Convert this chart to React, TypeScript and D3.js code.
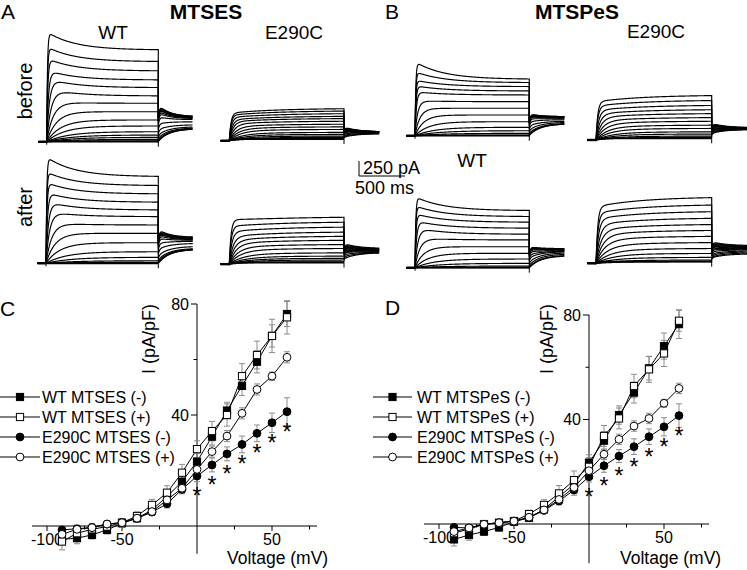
import React from "react";
import * as d3 from "d3";

const FONT = "'Liberation Sans', Arial, Helvetica, sans-serif";

// ---------------- Panels C & D : current–voltage data ----------------
const voltages = [-90, -80, -70, -60, -50, -40, -30, -20, -10, 0, 10, 20, 30, 40, 50, 60];

// C: MTSES
const cWtMinus = [-4.8, -4.4, -3.2, -1.4, 1.0, 2.8, 5.8, 10.6, 16.0, 23.2, 32.2, 41.6, 50.5, 59.2, 68.5, 76.4];
const cWtPlus = [-5.6, -2.6, -1.2, -0.2, 1.2, 3.6, 7.6, 12.0, 19.2, 27.7, 34.2, 40.0, 54.0, 61.6, 68.5, 75.2];
const cMutMinus = [-1.4, -1.0, -0.5, 0.7, 1.2, 2.8, 5.0, 8.0, 13.2, 18.0, 22.0, 26.0, 29.4, 33.4, 37.2, 41.2];
const cMutPlus = [-3.0, -1.2, -0.6, 0.7, 1.2, 2.8, 5.2, 9.4, 13.6, 20.4, 26.8, 32.4, 40.6, 49.2, 54.0, 60.8];
const cWtMinusErr = [2, 2, 1.5, 1.5, 1.5, 1.5, 1.5, 2, 2.5, 3, 3, 3, 3.5, 4, 4, 4.5];
const cWtPlusErr = [3, 2.5, 2, 1.5, 1.5, 1.5, 2, 2.5, 3, 3, 3.5, 4, 4.5, 5, 6, 6];
const cMutMinusErr = [1, 1, 1, 1, 1, 1, 1, 1.5, 1.5, 2, 2.5, 2.5, 3, 3, 3.5, 5];
const cMutPlusErr = [1.5, 1.5, 1, 1, 1, 1, 1, 1.5, 2, 2, 2, 2, 2, 2, 1.5, 2];
const cLegend = ["WT MTSES (-)", "WT MTSES (+)", "E290C MTSES (-)", "E290C MTSES (+)"];

// D: MTSPeS
const dWtMinus = [-5.9, -4.2, -2.9, -1.3, 0.9, 2.4, 5.6, 10.5, 15.2, 23.5, 31.9, 41.7, 50.3, 59.6, 68.1, 76.5];
const dWtPlus = [-3.5, -1.9, -0.1, 0.5, 1.1, 3.8, 7.3, 11.7, 16.8, 21.9, 33.7, 40.4, 52.8, 59.2, 65.3, 77.8];
const dMutMinus = [-1.3, -1.5, -0.1, 0.5, 1.1, 2.4, 5.2, 8.8, 13.0, 18.1, 22.3, 26.0, 29.6, 33.4, 37.2, 41.5];
const dMutPlus = [-2.9, -1.5, -0.1, 0.5, 1.1, 2.6, 5.4, 9.4, 14.0, 20.4, 26.7, 32.4, 37.5, 40.4, 46.2, 51.9];
const dWtMinusErr = [2.5, 2, 1.5, 1.5, 1.5, 1.5, 1.5, 2, 3, 3, 3.5, 3.5, 4, 4.5, 5, 5.5];
const dWtPlusErr = [2, 1.5, 1.5, 1, 1.5, 1.5, 2, 3, 3.5, 3.5, 4, 4, 4.5, 5, 5, 4];
const dMutMinusErr = [1, 1, 1, 1, 1, 1, 1, 1.5, 2, 2, 2.5, 2.5, 3, 3, 3.5, 4.5];
const dMutPlusErr = [1.5, 1.5, 1, 1, 1, 1, 1, 1.5, 2, 2, 2, 2, 2, 2, 1.5, 2];
const dLegend = ["WT MTSPeS (-)", "WT MTSPeS (+)", "E290C MTSPeS (-)", "E290C MTSPeS (+)"];

const significantVoltages = [0, 10, 20, 30, 40, 50, 60];

const xTicksMajor = [-100, -50, 50];
const xTickLabels = ["-100", "-50", "50"];
const xTicksMinor = [-75, -25, 25, 75];
const yTicksMajor = [40, 80];
const yTickLabels = ["40", "80"];
const yTicksMinor = [20, 60];

// ---------------- Panels A & B : current traces (pA) ----------------
// steady-state amplitude at end of step, peak amplitude, tail start, tail end
const aWtBeforeSS = [1528, 1333, 1178, 1028, 900, 762, 640, 500, 362, 262, 167, 112, 73, 40, 17];
const aWtBeforePk = [1833, 1583, 1390, 1195, 1057, 890, 667, 500, 362, 262, 167, 112, 73, 40, 17];
const aWtBeforeTf = [617, 600, 583, 567, 550, 517, 483, 417, 300, 200, 117, 67, 33, 17, 8];
const aWtBeforeTt = [417, 417, 408, 400, 400, 392, 383, 367, 333, 283, 250, 233, 225, 217, 217];

const aWtAfterSS = [1443, 1293, 1155, 1017, 888, 777, 638, 500, 343, 193, 100, 43, 17, 0];
const aWtAfterPk = [1777, 1527, 1350, 1183, 1033, 867, 680, 500, 343, 193, 100, 43, 17, 0];
const aWtAfterTf = [567, 550, 533, 517, 500, 467, 417, 333, 233, 133, 67, 33, 17, 0];
const aWtAfterTt = [433, 425, 417, 408, 400, 392, 383, 367, 333, 283, 250, 242, 233, 233];

const aMutBeforeSS = [512, 472, 428, 383, 345, 300, 250, 205, 162, 112, 78, 50, 28, 12];
const aMutBeforePk = [512, 472, 428, 383, 345, 300, 250, 205, 162, 112, 78, 50, 28, 12];
const aMutBeforeTf = [200, 192, 183, 175, 167, 158, 150, 142, 133, 117, 92, 67, 50, 33];
const aMutBeforeTt = [117, 117, 117, 117, 117, 117, 117, 113, 108, 103, 100, 97, 92, 92];

const aMutAfterSS = [763, 680, 597, 513, 442, 375, 303, 237, 163, 108, 70, 42, 13];
const aMutAfterPk = [847, 717, 610, 513, 442, 375, 303, 237, 163, 108, 70, 42, 13];
const aMutAfterTf = [317, 300, 283, 267, 250, 233, 217, 200, 183, 167, 133, 100, 67];
const aMutAfterTt = [233, 225, 217, 217, 208, 208, 200, 200, 192, 183, 175, 167, 167];

const bWtBeforeSS = [940, 883, 817, 745, 678, 567, 457, 345, 233, 140, 83, 40, 12];
const bWtBeforePk = [1233, 1067, 928, 833, 733, 583, 457, 345, 233, 140, 83, 40, 12];
const bWtBeforeTf = [367, 358, 350, 342, 333, 317, 283, 233, 167, 100, 50, 25, 8];
const bWtBeforeTt = [317, 317, 308, 308, 300, 292, 283, 267, 242, 225, 208, 200, 200];

const bWtAfterSS = [950, 850, 757, 657, 557, 462, 350, 240, 145, 73, 28, 0];
const bWtAfterPk = [1183, 1033, 900, 783, 667, 500, 350, 240, 145, 73, 28, 0];
const bWtAfterTf = [350, 342, 333, 317, 300, 267, 217, 167, 100, 50, 17, 0];
const bWtAfterTt = [317, 308, 300, 300, 292, 283, 275, 267, 250, 230, 210, 200];

const bMutBeforeSS = [722, 638, 555, 483, 417, 350, 288, 222, 167, 110, 72, 38, 17];
const bMutBeforePk = [722, 638, 555, 483, 417, 350, 288, 222, 167, 110, 72, 38, 17];
const bMutBeforeTf = [250, 233, 225, 217, 208, 200, 183, 167, 150, 133, 117, 100, 83];
const bMutBeforeTt = [175, 175, 172, 170, 167, 167, 163, 160, 157, 153, 150, 150, 150];

const bMutAfterSS = [1083, 957, 845, 733, 628, 528, 428, 323, 223, 140, 73, 28, 0];
const bMutAfterPk = [1083, 957, 845, 733, 628, 528, 428, 323, 223, 140, 73, 28, 0];
const bMutAfterTf = [333, 317, 300, 283, 267, 250, 225, 200, 167, 133, 108, 83, 67];
const bMutAfterTt = [267, 258, 250, 242, 233, 225, 217, 208, 200, 183, 167, 150, 133];

const holdCurrentWT = 0;
const holdCurrentMut = -28;

// protocol timing (ms)
const HOLD_MS = 90;
const STEP_MS = 1200;
const TAIL_MS = 370;
const DT = 4;

type TracePanelCfg = {
  xs: number; xe: number; y0: number;
  ss: number[]; pk: number[]; tf: number[]; tt: number[];
  hold: number; kind: "wt" | "mut";
};

const tracePanels: TracePanelCfg[] = [
  { xs: 46.7, xe: 158.3, y0: 141.7, ss: aWtBeforeSS, pk: aWtBeforePk, tf: aWtBeforeTf, tt: aWtBeforeTt, hold: holdCurrentWT, kind: "wt" },
  { xs: 46.0, xe: 158.3, y0: 263.3, ss: aWtAfterSS, pk: aWtAfterPk, tf: aWtAfterTf, tt: aWtAfterTt, hold: holdCurrentWT, kind: "wt" },
  { xs: 229.3, xe: 344.0, y0: 139.0, ss: aMutBeforeSS, pk: aMutBeforePk, tf: aMutBeforeTf, tt: aMutBeforeTt, hold: holdCurrentMut, kind: "mut" },
  { xs: 229.3, xe: 344.0, y0: 262.5, ss: aMutAfterSS, pk: aMutAfterPk, tf: aMutAfterTf, tt: aMutAfterTt, hold: holdCurrentMut, kind: "mut" },
  { xs: 415.0, xe: 529.3, y0: 135.7, ss: bWtBeforeSS, pk: bWtBeforePk, tf: bWtBeforeTf, tt: bWtBeforeTt, hold: holdCurrentWT, kind: "wt" },
  { xs: 415.0, xe: 529.3, y0: 267.7, ss: bWtAfterSS, pk: bWtAfterPk, tf: bWtAfterTf, tt: bWtAfterTt, hold: holdCurrentWT, kind: "wt" },
  { xs: 596.0, xe: 711.7, y0: 138.3, ss: bMutBeforeSS, pk: bMutBeforePk, tf: bMutBeforeTf, tt: bMutBeforeTt, hold: holdCurrentMut, kind: "mut" },
  { xs: 596.0, xe: 711.7, y0: 261.7, ss: bMutAfterSS, pk: bMutAfterPk, tf: bMutAfterTf, tt: bMutAfterTt, hold: holdCurrentMut, kind: "mut" },
];

const ampScale = d3.scaleLinear().domain([0, 250]).range([0, 15]);

function tracePoints(cfg: TracePanelCfg, i: number): [number, number][] {
  const ss = cfg.ss[i], pk = cfg.pk[i], tf = cfg.tf[i], tt = cfg.tt[i];
  const frac = ss / cfg.ss[0];
  const wt = cfg.kind === "wt";
  const tauF = wt ? 8 + 320 * Math.pow(1 - frac, 3) : 18 + 200 * Math.pow(1 - frac, 2);
  const a = wt ? 1 : 0.85;
  const tauS = 500, tauI = 300, tauT = wt ? 120 : 150;
  const pts: [number, number][] = [[-HOLD_MS, cfg.hold], [0, cfg.hold]];
  for (let t = DT; t <= STEP_MS; t += DT) {
    const act = 1 - a * Math.exp(-t / tauF) - (1 - a) * Math.exp(-t / tauS);
    const target = ss + (pk - ss) * Math.exp(-t / tauI);
    pts.push([t, cfg.hold * (1 - act) + act * target]);
  }
  for (let t = 0; t <= TAIL_MS; t += DT) {
    const v = (tt + (tf - tt) * Math.exp(-t / tauT)) * (1 - 0.35 * Math.exp(-t / 12));
    pts.push([STEP_MS + t, v]);
  }
  return pts;
}

function TracePanel({ cfg }: { cfg: TracePanelCfg }) {
  const tx = d3.scaleLinear().domain([0, STEP_MS]).range([cfg.xs, cfg.xe]);
  const line = d3
    .line<[number, number]>()
    .x((d) => tx(d[0]))
    .y((d) => cfg.y0 - ampScale(d[1]));
  return (
    <g>
      {cfg.ss.map((_, i) => (
        <path key={i} d={line(tracePoints(cfg, i)) || ""} fill="none" stroke="#000" strokeWidth={1.15} />
      ))}
      <line x1={tx(-HOLD_MS)} x2={tx(0)} y1={cfg.y0 - ampScale(cfg.hold)} y2={cfg.y0 - ampScale(cfg.hold)} stroke="#000" strokeWidth={2.4} />
      <line x1={tx(0)} x2={tx(STEP_MS)} y1={cfg.y0} y2={cfg.y0} stroke="#000" strokeWidth={1.8} />
      <line x1={tx(0)} x2={tx(0)} y1={cfg.y0} y2={cfg.y0 + 3} stroke="#000" strokeWidth={1} />
      <line x1={tx(STEP_MS)} x2={tx(STEP_MS)} y1={cfg.y0} y2={cfg.y0 + 5} stroke="#000" strokeWidth={1} />
    </g>
  );
}

// ---------------- I–V panel ----------------
type IVCfg = {
  xRange: [number, number];
  yDomain: [number, number];
  yRange: [number, number];
  legendLineX: [number, number];
  legendTextX: number;
  legendRows: number[];
  yLabelX: number;
  xLabelX: number;
};

const seriesMarkers = [
  { shape: "square", filled: true },
  { shape: "square", filled: false },
  { shape: "circle", filled: true },
  { shape: "circle", filled: false },
];

function Marker({ x, y, shape, filled }: { x: number; y: number; shape: string; filled: boolean }) {
  const fill = filled ? "#000" : "#fff";
  if (shape === "square")
    return <rect x={x - 3.6} y={y - 3.6} width={7.2} height={7.2} fill={fill} stroke="#000" strokeWidth={1} />;
  return <circle cx={x} cy={y} r={3.9} fill={fill} stroke="#000" strokeWidth={1} />;
}

function IVPanel({ cfg, series, errors, labels }: { cfg: IVCfg; series: number[][]; errors: number[][]; labels: string[] }) {
  const x = d3.scaleLinear().domain([-110, 80]).range(cfg.xRange);
  const y = d3.scaleLinear().domain(cfg.yDomain).range(cfg.yRange);
  const x0 = x(0), y0 = y(0);
  const line = d3
    .line<number>()
    .x((_, i) => x(voltages[i]))
    .y((d) => y(d));
  const mut = series[2];
  return (
    <g fontFamily={FONT}>
      {/* axes */}
      <line x1={x(-110)} x2={x(80)} y1={y0} y2={y0} stroke="#000" strokeWidth={1} />
      <line x1={x0} x2={x0} y1={y(cfg.yDomain[0])} y2={y(80)} stroke="#000" strokeWidth={1} />
      {xTicksMajor.map((t, i) => (
        <g key={"xm" + t}>
          <line x1={x(t)} x2={x(t)} y1={y0} y2={y0 + 5} stroke="#000" />
          <text x={x(t)} y={y0 + 19} fontSize={16} textAnchor="middle">{xTickLabels[i]}</text>
        </g>
      ))}
      {xTicksMinor.map((t) => (
        <line key={"xn" + t} x1={x(t)} x2={x(t)} y1={y0} y2={y0 + 3.5} stroke="#000" />
      ))}
      {yTicksMajor.map((t, i) => (
        <g key={"ym" + t}>
          <line x1={x0 - 6} x2={x0} y1={y(t)} y2={y(t)} stroke="#000" />
          <text x={x0 - 8} y={y(t)} dy="0.35em" fontSize={16} textAnchor="end">{yTickLabels[i]}</text>
        </g>
      ))}
      {yTicksMinor.map((t) => (
        <line key={"yn" + t} x1={x0 - 3.5} x2={x0} y1={y(t)} y2={y(t)} stroke="#000" />
      ))}
      <text transform={`translate(${cfg.yLabelX},339) rotate(-90)`} fontSize={18} textAnchor="middle">I (pA/pF)</text>
      <text x={cfg.xLabelX} y={564} fontSize={17.5}>Voltage (mV)</text>

      {/* series lines */}
      {series.map((s, k) => (
        <path key={"l" + k} d={line(s) || ""} fill="none" stroke="#000" strokeWidth={1} />
      ))}
      {/* error bars */}
      {series.map((s, k) =>
        s.map((v, i) => {
          const e = errors[k][i];
          const xx = x(voltages[i]);
          return (
            <g key={`e${k}-${i}`} stroke="#8c8c8c" strokeWidth={1}>
              <line x1={xx} x2={xx} y1={y(v - e)} y2={y(v + e)} />
              <line x1={xx - 3} x2={xx + 3} y1={y(v + e)} y2={y(v + e)} />
              <line x1={xx - 3} x2={xx + 3} y1={y(v - e)} y2={y(v - e)} />
            </g>
          );
        })
      )}
      {/* markers */}
      {series.map((s, k) =>
        s.map((v, i) => (
          <Marker key={`m${k}-${i}`} x={x(voltages[i])} y={y(v)} shape={seriesMarkers[k].shape} filled={seriesMarkers[k].filled} />
        ))
      )}
      {/* significance */}
      {significantVoltages.map((vv) => {
        const i = voltages.indexOf(vv);
        return (
          <text key={"s" + vv} x={x(vv)} y={y(mut[i]) + 15 + 13} fontSize={23} textAnchor="middle" fill="#000">*</text>
        );
      })}
      {/* legend */}
      {labels.map((lab, k) => {
        const ry = cfg.legendRows[k];
        const mx = (cfg.legendLineX[0] + cfg.legendLineX[1]) / 2;
        return (
          <g key={"lg" + k}>
            <line x1={cfg.legendLineX[0]} x2={cfg.legendLineX[1]} y1={ry} y2={ry} stroke="#000" />
            <Marker x={mx} y={ry} shape={seriesMarkers[k].shape} filled={seriesMarkers[k].filled} />
            <text x={cfg.legendTextX} y={ry + 5.8} fontSize={16}>{lab}</text>
          </g>
        );
      })}
    </g>
  );
}

const cCfg: IVCfg = {
  xRange: [32, 317],
  yDomain: [-10, 80],
  yRange: [553.75, 304],
  legendLineX: [0, 40],
  legendTextX: 42,
  legendRows: [397, 417, 437, 457],
  yLabelX: 155,
  xLabelX: 227,
};
const dCfg: IVCfg = {
  xRange: [424, 709],
  yDomain: [-15, 80],
  yRange: [563.2, 315],
  legendLineX: [373, 412],
  legendTextX: 417,
  legendRows: [397, 417, 437, 457],
  yLabelX: 553,
  xLabelX: 620,
};

export default function App() {
  return (
    <svg
      width={747}
      height={570}
      viewBox="0 0 747 570"
      style={{ position: "absolute", left: 0, top: 0, background: "#fff" }}
      fontFamily={FONT}
    >
      <rect x={0} y={0} width={747} height={570} fill="#fff" />
      {/* panel letters & titles */}
      <text x={1} y={19} fontSize={21}>A</text>
      <text x={385} y={19} fontSize={21}>B</text>
      <text x={0} y={316} fontSize={21}>C</text>
      <text x={385} y={315} fontSize={21}>D</text>
      <text x={206} y={19} fontSize={21} fontWeight="bold" textAnchor="middle">MTSES</text>
      <text x={577} y={19} fontSize={21} fontWeight="bold" textAnchor="middle">MTSPeS</text>
      <text x={113} y={39} fontSize={19} textAnchor="middle">WT</text>
      <text x={294} y={39} fontSize={19} textAnchor="middle">E290C</text>
      <text x={656} y={38} fontSize={19} textAnchor="middle">E290C</text>
      <text x={472} y={167} fontSize={19} textAnchor="middle">WT</text>
      <text transform="translate(32,91) rotate(-90)" fontSize={20} textAnchor="middle">before</text>
      <text transform="translate(32,207) rotate(-90)" fontSize={20} textAnchor="middle">after</text>

      {/* scale bar */}
      <line x1={359} x2={359} y1={161} y2={176} stroke="#000" strokeWidth={1} />
      <line x1={359} x2={405} y1={176} y2={176} stroke="#000" strokeWidth={1} />
      <text x={363} y={174} fontSize={18}>250 pA</text>
      <text x={355} y={194} fontSize={18}>500 ms</text>

      {tracePanels.map((p, i) => (
        <TracePanel key={i} cfg={p} />
      ))}

      <IVPanel
        cfg={cCfg}
        series={[cWtMinus, cWtPlus, cMutMinus, cMutPlus]}
        errors={[cWtMinusErr, cWtPlusErr, cMutMinusErr, cMutPlusErr]}
        labels={cLegend}
      />
      <IVPanel
        cfg={dCfg}
        series={[dWtMinus, dWtPlus, dMutMinus, dMutPlus]}
        errors={[dWtMinusErr, dWtPlusErr, dMutMinusErr, dMutPlusErr]}
        labels={dLegend}
      />
    </svg>
  );
}
